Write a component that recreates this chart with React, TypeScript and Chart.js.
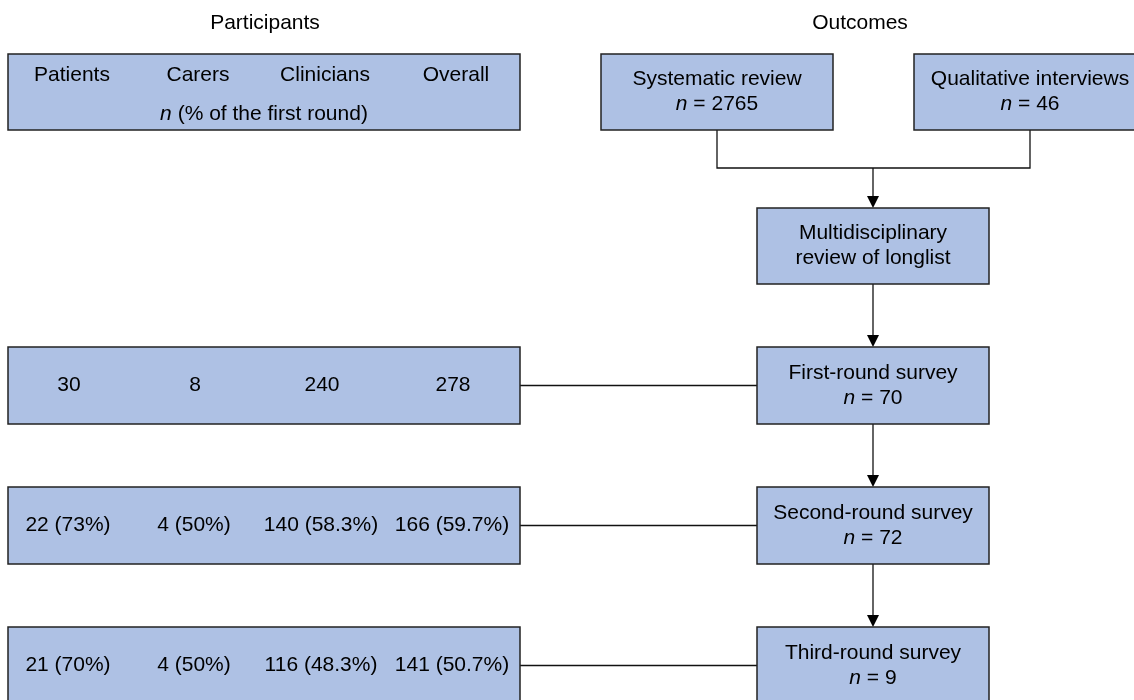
import React, { useEffect, useRef } from "react";
import { Chart, registerables } from "chart.js";

Chart.register(...registerables);

// ---------- DATA ----------
const participantGroups = ["Patients", "Carers", "Clinicians", "Overall"];
const roundNames = ["First-round survey", "Second-round survey", "Third-round survey"];
const patients = [30, 22, 21];
const carers = [8, 4, 4];
const clinicians = [240, 140, 116];
const overall = [278, 166, 141];
const patientsPct: (number | null)[] = [null, 73, 70];
const carersPct: (number | null)[] = [null, 50, 50];
const cliniciansPct: (number | null)[] = [null, 58.3, 48.3];
const overallPct: (number | null)[] = [null, 59.7, 50.7];
const roundOutcomes = [70, 72, 9];
const sourceNames = ["Systematic review", "Qualitative interviews"];
const sourceCounts = [2765, 46];
const reviewLabel = ["Multidisciplinary", "review of longlist"];
const titles = ["Participants", "Outcomes"];

// ---------- LAYOUT (canvas units) ----------
const W = 1134;
const H = 700;
const FILL = "rgb(174,193,228)";
const STROKE = "#222";
const FONT = '"Liberation Sans", Arial, Helvetica, sans-serif';
const FS = 21;

const leftBox = { x0: 8, x1: 520 };
const colCenters = [72, 198, 325, 456];
const rightBox = { x0: 757, x1: 989 };
const sourceBoxes = [
  { x0: 601, x1: 833 },
  { x0: 914, x1: 1146 },
];
const topRow = { y0: 54, y1: 130 };
const reviewRow = { y0: 208, y1: 284 };
const roundRows = [
  { y0: 347, y1: 424 },
  { y0: 487, y1: 564 },
  { y0: 627, y1: 704 },
];
const joinY = 168;
const titleY = 23;
const titleX = [265, 860];
const lineGap = 12.5;

type Part = { text: string; italic?: boolean };

const flowPlugin = {
  id: "flow",
  afterDraw(chart: any) {
    const ctx: CanvasRenderingContext2D = chart.ctx;
    const xs = chart.scales.x;
    const ys = chart.scales.y;
    const px = (v: number) => xs.getPixelForValue(v);
    const py = (v: number) => ys.getPixelForValue(v);

    const rect = (x0: number, y0: number, x1: number, y1: number) => {
      const a = px(x0), b = px(x1), c = py(y0), d = py(y1);
      ctx.save();
      ctx.fillStyle = FILL;
      ctx.fillRect(a, c, b - a, d - c);
      ctx.strokeStyle = STROKE;
      ctx.lineWidth = 1.5;
      ctx.strokeRect(a, c, b - a, d - c);
      ctx.restore();
    };
    const line = (pts: number[][]) => {
      ctx.save();
      ctx.strokeStyle = "#111";
      ctx.lineWidth = 1.3;
      ctx.beginPath();
      pts.forEach((p, i) => {
        if (i === 0) ctx.moveTo(px(p[0]), py(p[1]));
        else ctx.lineTo(px(p[0]), py(p[1]));
      });
      ctx.stroke();
      ctx.restore();
    };
    const arrowDown = (x: number, yFrom: number, yTo: number) => {
      line([[x, yFrom], [x, yTo - 10]]);
      ctx.save();
      ctx.fillStyle = "#000";
      ctx.beginPath();
      ctx.moveTo(px(x), py(yTo));
      ctx.lineTo(px(x) - 6, py(yTo) - 12);
      ctx.lineTo(px(x) + 6, py(yTo) - 12);
      ctx.closePath();
      ctx.fill();
      ctx.restore();
    };
    const rich = (parts: Part[], cx: number, cy: number) => {
      ctx.save();
      ctx.fillStyle = "#000";
      ctx.textBaseline = "middle";
      ctx.textAlign = "left";
      let total = 0;
      const widths = parts.map((p) => {
        ctx.font = `${p.italic ? "italic " : ""}${FS}px ${FONT}`;
        const w = ctx.measureText(p.text).width;
        total += w;
        return w;
      });
      let x = px(cx) - total / 2;
      parts.forEach((p, i) => {
        ctx.font = `${p.italic ? "italic " : ""}${FS}px ${FONT}`;
        ctx.fillText(p.text, x, py(cy));
        x += widths[i];
      });
      ctx.restore();
    };
    const txt = (s: string, cx: number, cy: number) => rich([{ text: s }], cx, cy);
    const nEq = (n: number, cx: number, cy: number) =>
      rich([{ text: "n", italic: true }, { text: ` = ${n}` }], cx, cy);

    ctx.save();
    ctx.fillStyle = "#fff";
    ctx.fillRect(0, 0, chart.width, chart.height);
    ctx.restore();

    // titles
    txt(titles[0], titleX[0], titleY);
    txt(titles[1], titleX[1], titleY);

    // connectors (drawn first)
    const rcx = (rightBox.x0 + rightBox.x1) / 2;
    const s0 = (sourceBoxes[0].x0 + sourceBoxes[0].x1) / 2;
    const s1 = (sourceBoxes[1].x0 + sourceBoxes[1].x1) / 2;
    line([[s0, topRow.y1], [s0, joinY], [s1, joinY], [s1, topRow.y1]]);
    arrowDown(rcx, joinY, reviewRow.y0);
    arrowDown(rcx, reviewRow.y1, roundRows[0].y0);
    arrowDown(rcx, roundRows[0].y1, roundRows[1].y0);
    arrowDown(rcx, roundRows[1].y1, roundRows[2].y0);
    roundRows.forEach((r) => {
      const my = (r.y0 + r.y1) / 2;
      line([[leftBox.x1, my], [rightBox.x0, my]]);
    });

    // header box
    rect(leftBox.x0, topRow.y0, leftBox.x1, topRow.y1);
    participantGroups.forEach((g, i) => txt(g, colCenters[i], 75));
    rich(
      [{ text: "n", italic: true }, { text: " (% of the first round)" }],
      264,
      114
    );

    // source boxes
    sourceBoxes.forEach((b, i) => {
      rect(b.x0, topRow.y0, b.x1, topRow.y1);
      const cx = (b.x0 + b.x1) / 2;
      const cy = (topRow.y0 + topRow.y1) / 2;
      txt(sourceNames[i], cx, cy - lineGap);
      nEq(sourceCounts[i], cx, cy + lineGap);
    });

    // review box
    rect(rightBox.x0, reviewRow.y0, rightBox.x1, reviewRow.y1);
    {
      const cy = (reviewRow.y0 + reviewRow.y1) / 2;
      txt(reviewLabel[0], rcx, cy - lineGap);
      txt(reviewLabel[1], rcx, cy + lineGap);
    }

    // rounds
    const fmt = (v: number, p: number | null) => (p === null ? `${v}` : `${v} (${p}%)`);
    roundRows.forEach((r, i) => {
      const cy = (r.y0 + r.y1) / 2;
      rect(leftBox.x0, r.y0, leftBox.x1, r.y1);
      const vals = [
        fmt(patients[i], patientsPct[i]),
        fmt(carers[i], carersPct[i]),
        fmt(clinicians[i], cliniciansPct[i]),
        fmt(overall[i], overallPct[i]),
      ];
      vals.forEach((v, j) => txt(v, colCenters[j] - (i === 0 ? 3 : 4), cy));
      rect(rightBox.x0, r.y0, rightBox.x1, r.y1);
      txt(roundNames[i], rcx, cy - lineGap);
      nEq(roundOutcomes[i], rcx, cy + lineGap);
    });
  },
};

export default function App() {
  const ref = useRef<HTMLCanvasElement | null>(null);
  useEffect(() => {
    if (!ref.current) return;
    const chart = new Chart(ref.current, {
      type: "scatter",
      data: { datasets: [{ data: [], pointRadius: 0 }] },
      options: {
        animation: false,
        responsive: false,
        devicePixelRatio: 1,
        layout: { padding: 0 },
        plugins: { legend: { display: false }, tooltip: { enabled: false } },
        scales: {
          x: { type: "linear", min: 0, max: W, display: false },
          y: { type: "linear", min: 0, max: H, reverse: true, display: false },
        },
      },
      plugins: [flowPlugin],
    });
    return () => chart.destroy();
  }, []);
  return (
    <div style={{ position: "absolute", left: 0, top: 0, width: W, height: H, background: "#fff" }}>
      <canvas ref={ref} width={W} height={H} style={{ width: W, height: H, display: "block" }} />
    </div>
  );
}
